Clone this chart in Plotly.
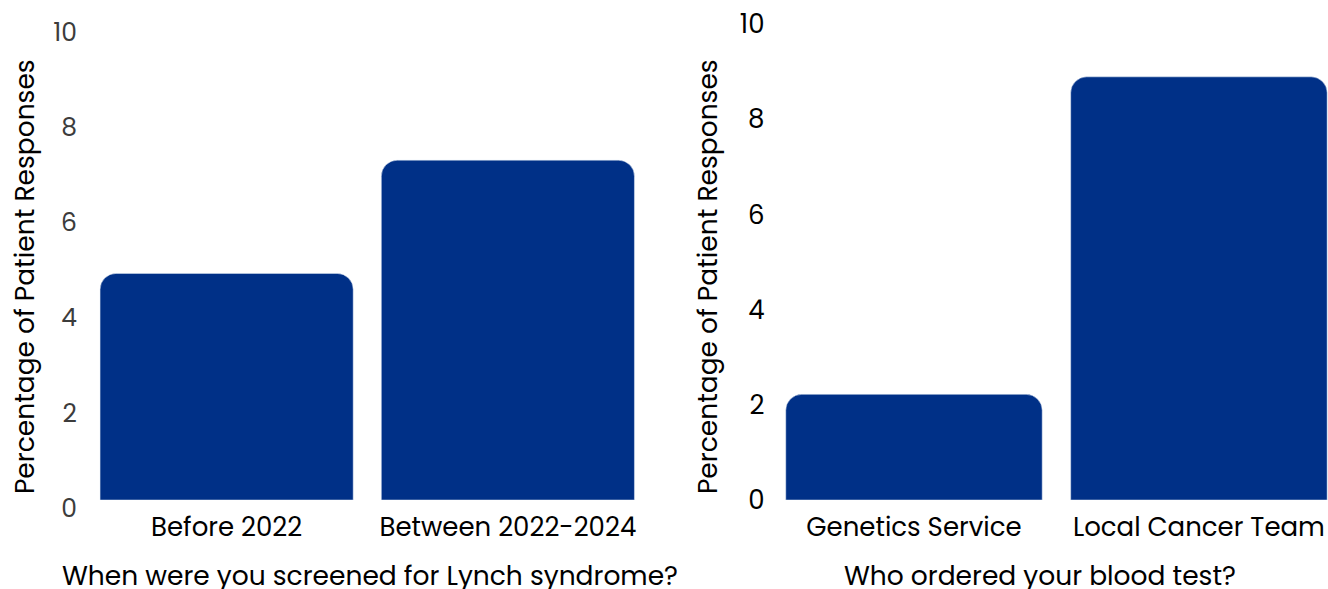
import plotly.graph_objects as go

# Survey results: share of patient responses per answer
screen_cats = ["Before 2022", "Between 2022-2024"]
screen_vals = [4.76, 7.14]

order_cats = ["Genetics Service", "Local Cancer Team"]
order_vals = [2.22, 8.89]

y_ticks = [0, 2, 4, 6, 8, 10]

BAR = "#003087"
FONT = "Poppins, 'Open Sans', sans-serif"
W, H = 1328, 589
ML, MT, MB = 86, 24, 89
PW = W - ML
PH = H - MT - MB

fig = go.Figure()
fig.add_trace(go.Bar(x=screen_cats, y=screen_vals, marker=dict(color=BAR, cornerradius=16),
                     xaxis="x", yaxis="y", showlegend=False))
fig.add_trace(go.Bar(x=order_cats, y=order_vals, marker=dict(color=BAR, cornerradius=16),
                     xaxis="x2", yaxis="y2", showlegend=False))

tick_font = dict(family=FONT, size=26, color="#000")
fig.update_layout(
    width=W, height=H,
    margin=dict(l=ML, r=0, t=MT, b=MB),
    paper_bgcolor="white", plot_bgcolor="white",
    bargap=0.1,
    font=dict(family=FONT, size=26, color="#000"),
    xaxis=dict(domain=[0, (648.5 - ML) / PW], anchor="y", range=[-0.5, 1.5],
               showgrid=False, zeroline=False, showline=False, ticks="",
               tickfont=tick_font, ticklabelstandoff=9),
    yaxis=dict(domain=[0, 1], anchor="x", range=[0, 10], tickvals=y_ticks,
               showgrid=False, zeroline=False, showline=False, ticks="",
               tickfont=dict(family=FONT, size=25, color="#3c3c3c"),
               ticklabelshift=8, ticklabelstandoff=8),
    xaxis2=dict(domain=[(771.5 - ML) / PW, 1], anchor="y2", range=[-0.5, 1.453],
                showgrid=False, zeroline=False, showline=False, ticks="",
                tickfont=tick_font, ticklabelstandoff=9),
    yaxis2=dict(domain=[0, 1], anchor="x2", range=[0, 10], tickvals=y_ticks,
                showgrid=False, zeroline=False, showline=False, ticks="",
                tickfont=tick_font, ticklabelstandoff=6),
)

ann_font = dict(family=FONT, size=26.5, color="#000")
fig.add_annotation(text="When were you screened for Lynch syndrome?", xref="paper", yref="paper",
                   x=(370 - ML) / PW, y=-(576 - (H - MB)) / PH,
                   xanchor="center", yanchor="middle", showarrow=False, font=ann_font)
fig.add_annotation(text="Who ordered your blood test?", xref="paper", yref="paper",
                   x=(1040 - ML) / PW, y=-(576 - (H - MB)) / PH,
                   xanchor="center", yanchor="middle", showarrow=False, font=ann_font)
for xc in (24, 707):
    fig.add_annotation(text="Percentage of Patient Responses", xref="paper", yref="paper",
                       x=(xc - ML) / PW, y=((H - MB) - 277) / PH,
                       xanchor="center", yanchor="middle", textangle=-90,
                       showarrow=False, font=ann_font)

fig.write_html("out.html")
